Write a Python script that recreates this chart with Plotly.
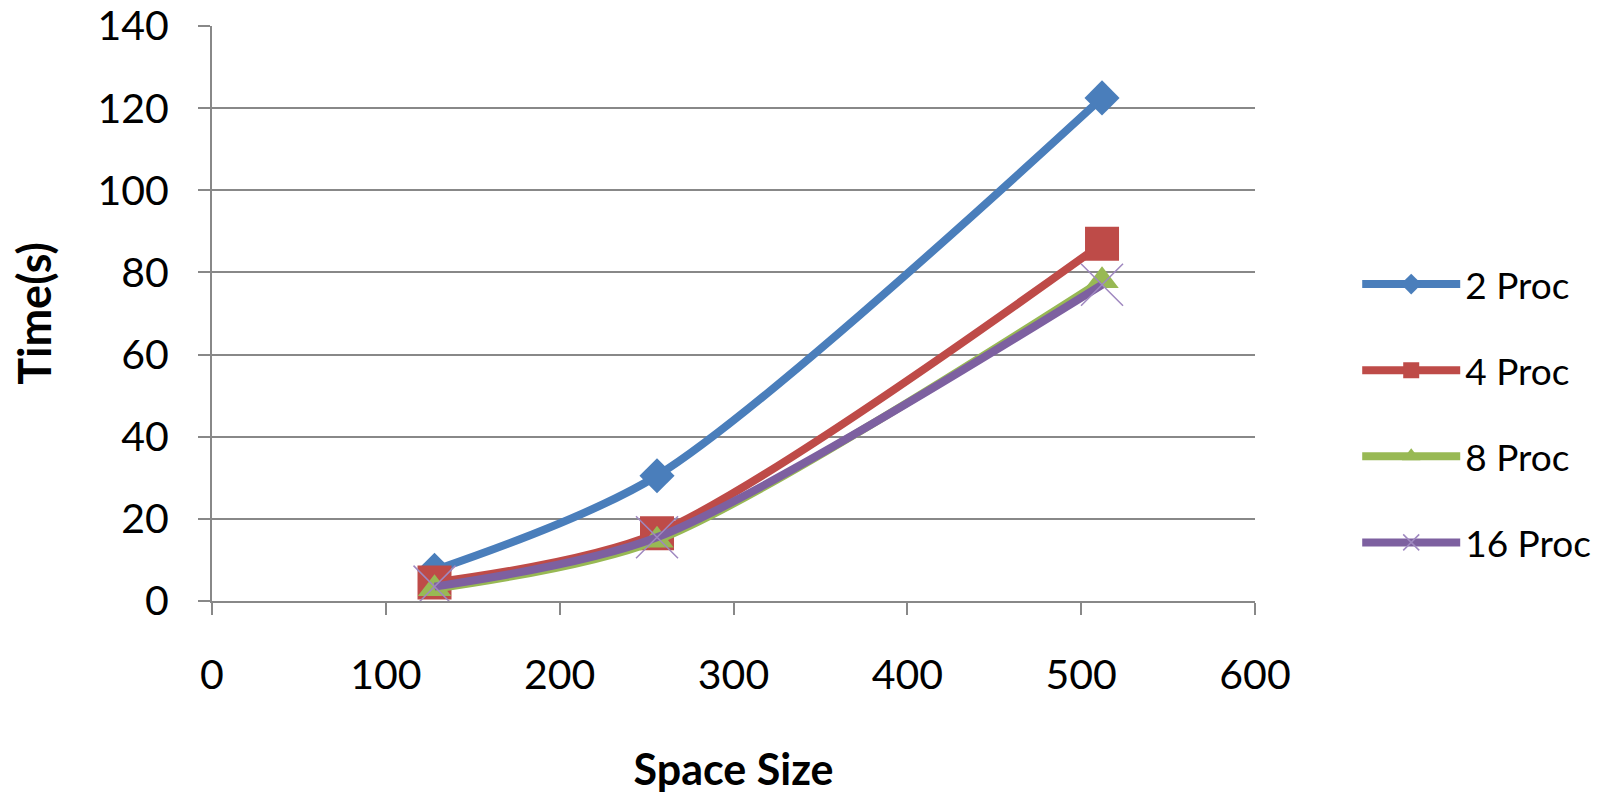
import plotly.graph_objects as go

space_size = [128, 256, 512]
series_names = ["2 Proc", "4 Proc", "8 Proc", "16 Proc"]
proc2 = [7.5, 30.5, 122.5]
proc4 = [4.5, 16.5, 87.0]
proc8 = [3.0, 14.8, 78.0]
proc16 = [3.5, 15.5, 77.0]
x_ticks = [0, 100, 200, 300, 400, 500, 600]
y_ticks = [0, 20, 40, 60, 80, 100, 120, 140]

values = [proc2, proc4, proc8, proc16]
colors = ["#4A7EBB", "#BE4B48", "#98B954", "#7D60A0"]
symbols = ["diamond", "square", "triangle-up", "x-thin"]
sizes = [27, 34, 29, 42]

FONT = "Lato, 'Open Sans', sans-serif"

fig = go.Figure()
for i, (name, vals) in enumerate(zip(series_names, values)):
    mk = dict(symbol=symbols[i], size=sizes[i], color=colors[i], line=dict(width=0))
    if symbols[i] == "x-thin":
        mk = dict(symbol="x-thin", size=sizes[i], color=colors[i],
                  line=dict(width=1.5, color="#9F88C0"))
    fig.add_trace(go.Scatter(
        x=space_size, y=vals, name=name, mode="lines+markers",
        line=dict(color=colors[i], width=8, shape="spline", smoothing=0.8),
        marker=mk, legendgroup=name,
    ))

fig.update_layout(
    width=1624, height=794,
    margin=dict(l=212, r=369, t=26, b=193, autoexpand=False),
    plot_bgcolor="white", paper_bgcolor="white",
    font=dict(family=FONT, color="#000000", size=41),
    showlegend=True,
    legend=dict(x=1.098, y=0.326, xanchor="left", yanchor="middle",
                font=dict(size=37, family=FONT), itemwidth=98,
                tracegroupgap=35, bgcolor="rgba(0,0,0,0)"),
)
fig.update_xaxes(
    range=[0, 600], tickvals=x_ticks, ticks="outside", ticklen=12, tickwidth=2,
    tickcolor="#888888", showline=True, linecolor="#888888", linewidth=2,
    showgrid=False, zeroline=False, ticklabelstandoff=25, automargin=False,
    title=dict(text="<b>Space Size</b>", standoff=59, font=dict(size=43)),
)
fig.update_yaxes(
    range=[0, 140.001], tickvals=y_ticks, ticks="outside", ticklen=12, tickwidth=2,
    tickcolor="#888888", showline=True, linecolor="#888888", linewidth=2,
    showgrid=True, gridcolor="#888888", gridwidth=2, zeroline=False,
    ticklabelstandoff=21, automargin=False, ticklabeloverflow="allow",
    title=dict(text="<b>Time(s)</b>", standoff=32, font=dict(size=45)),
)
fig.write_html("out.html", config={"displayModeBar": False},
               post_script="document.body.style.margin='0px';")
